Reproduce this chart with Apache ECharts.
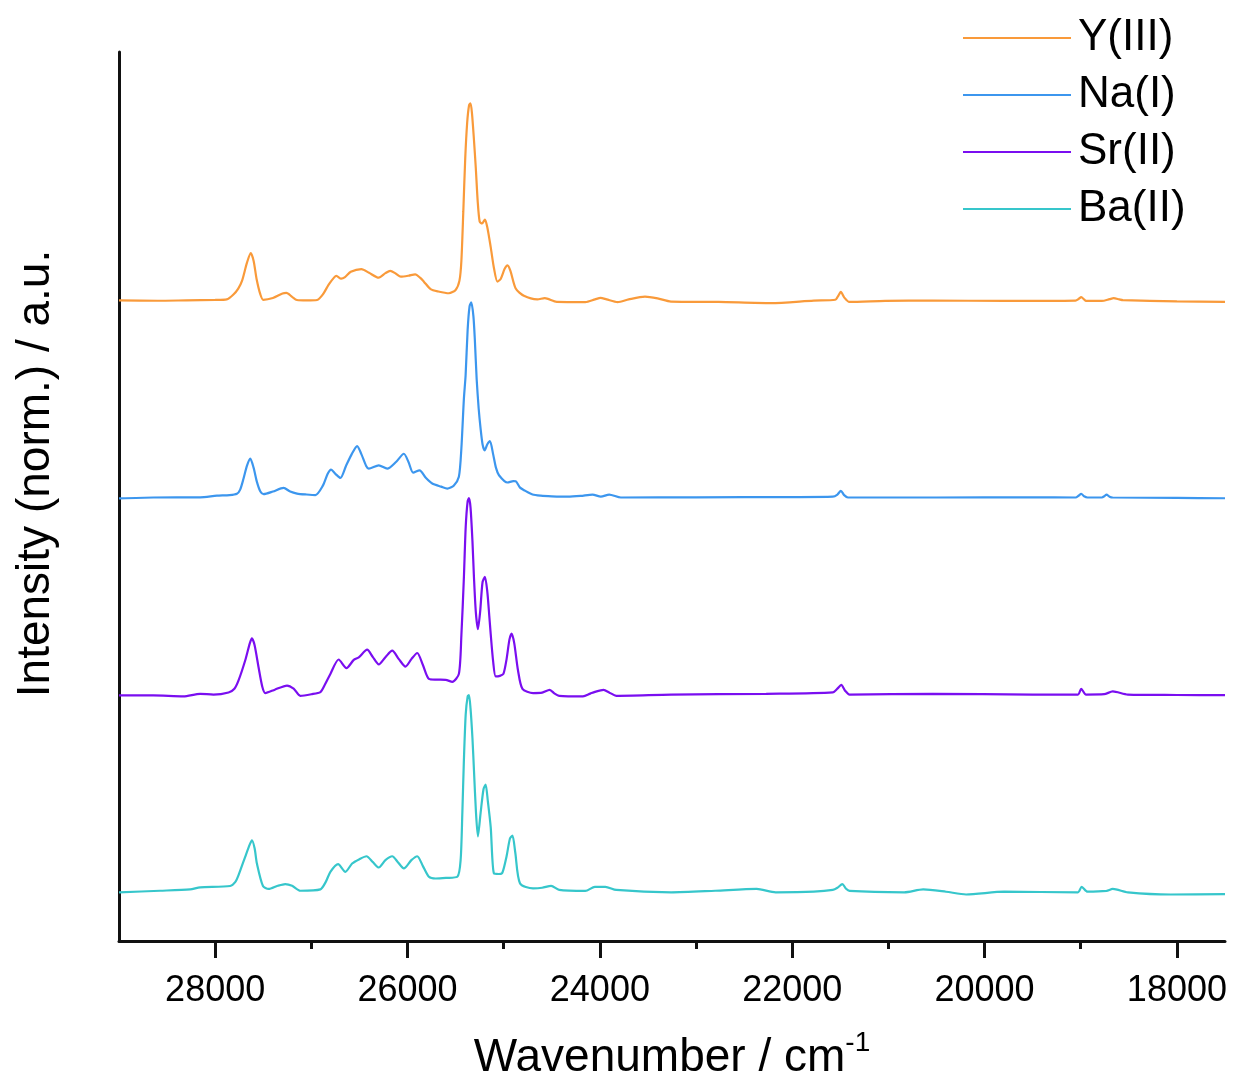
<!DOCTYPE html>
<html>
<head>
<meta charset="utf-8">
<script src="https://cdn.jsdelivr.net/npm/echarts@6/dist/echarts.min.js"></script>
<style>
  html, body { margin: 0; padding: 0; background: #ffffff; }
  #chart { width: 1235px; height: 1086px; }
</style>
</head>
<body>
<div id="chart"></div>
<script>
// ---------------- data (wavenumber / cm-1, normalized intensity) ----------------
const seriesNames = ['Y(III)', 'Na(I)', 'Sr(II)', 'Ba(II)'];
const seriesColors = ['#F99A3A', '#3C96EE', '#7A0EF0', '#36C6CB'];
const seriesOffsets = [3, 2, 1, 0];

const majorTicks = [18000, 20000, 22000, 24000, 26000, 28000];
const minorTicks = [19000, 21000, 23000, 25000, 27000];

const spectrumY = [
  [29000, 0.000], [28600, -0.002], [28300, 0.000], [28000, 0.002], [27880, 0.005],
  [27810, 0.03], [27760, 0.06], [27720, 0.10], [27670, 0.19], [27630, 0.24],
  [27600, 0.20], [27570, 0.11], [27530, 0.03], [27500, 0.003], [27400, 0.012],
  [27300, 0.035], [27260, 0.038], [27200, 0.018], [27150, 0.002], [27050, 0.000],
  [26940, 0.002], [26880, 0.03], [26820, 0.08], [26760, 0.118], [26740, 0.124],
  [26690, 0.11], [26650, 0.118], [26590, 0.145], [26480, 0.159], [26400, 0.14],
  [26300, 0.115], [26230, 0.138], [26180, 0.150], [26120, 0.135], [26070, 0.12],
  [25990, 0.125], [25920, 0.132], [25870, 0.115], [25830, 0.095], [25760, 0.057],
  [25680, 0.045], [25570, 0.036], [25500, 0.053], [25460, 0.10], [25440, 0.20],
  [25420, 0.45], [25400, 0.72], [25380, 0.90], [25360, 0.99], [25345, 1.00],
  [25330, 0.95], [25310, 0.82], [25290, 0.67], [25270, 0.50], [25250, 0.40],
  [25225, 0.39], [25195, 0.41], [25170, 0.37], [25135, 0.27], [25100, 0.16],
  [25065, 0.095], [25030, 0.11], [24990, 0.16], [24960, 0.178], [24930, 0.15],
  [24875, 0.06], [24790, 0.023], [24650, 0.005], [24573, 0.011], [24448, -0.008],
  [24151, -0.009], [24050, 0.005], [23993, 0.013], [23930, 0.005], [23815, -0.009],
  [23700, 0.005], [23531, 0.019], [23400, 0.01], [23260, -0.006], [22766, -0.008],
  [22221, -0.014], [21776, -0.001], [21552, 0.003], [21525, 0.02], [21494, 0.043],
  [21460, 0.015], [21406, -0.008], [21033, -0.003], [20542, -0.001], [19796, -0.003],
  [19054, -0.001], [19020, 0.008], [18995, 0.016], [18965, 0.005], [18945, -0.003],
  [18781, -0.003], [18700, 0.006], [18658, 0.011], [18600, 0.005], [18562, 0.001],
  [18000, -0.005], [17500, -0.008]
];

const spectrumNa = [
  [29000, -0.005], [28643, 0.000], [28156, 0.001], [27982, 0.009], [27850, 0.012],
  [27774, 0.019], [27740, 0.04], [27705, 0.096], [27670, 0.16], [27635, 0.197],
  [27600, 0.15], [27566, 0.079], [27530, 0.03], [27497, 0.017], [27400, 0.03],
  [27289, 0.049], [27220, 0.03], [27149, 0.02], [27050, 0.015], [26958, 0.012],
  [26880, 0.06], [26830, 0.12], [26795, 0.141], [26750, 0.12], [26698, 0.099],
  [26640, 0.16], [26580, 0.22], [26524, 0.261], [26480, 0.22], [26430, 0.16],
  [26403, 0.146], [26299, 0.163], [26211, 0.146], [26120, 0.18], [26038, 0.222],
  [25990, 0.18], [25941, 0.126], [25875, 0.138], [25810, 0.10], [25743, 0.071],
  [25650, 0.055], [25586, 0.045], [25520, 0.06], [25466, 0.105], [25440, 0.25],
  [25414, 0.50], [25396, 0.62], [25375, 0.85], [25355, 0.97], [25337, 0.99],
  [25315, 0.92], [25300, 0.80], [25281, 0.60], [25260, 0.45], [25240, 0.348],
  [25220, 0.27], [25198, 0.239], [25170, 0.27], [25143, 0.286], [25110, 0.22],
  [25080, 0.15], [25049, 0.113], [24961, 0.076], [24900, 0.083], [24875, 0.082],
  [24830, 0.05], [24788, 0.037], [24700, 0.015], [24615, 0.009], [24500, 0.006],
  [24336, 0.004], [24200, 0.008], [24076, 0.015], [23990, 0.004], [23903, 0.015],
  [23781, 0.000], [23000, 0.001], [22000, 0.002], [21578, 0.004], [21530, 0.015],
  [21494, 0.034], [21460, 0.012], [21420, 0.000], [20500, 0.000], [19500, 0.001],
  [19054, 0.000], [19020, 0.01], [18995, 0.019], [18965, 0.006], [18930, 0.000],
  [18781, 0.000], [18750, 0.008], [18732, 0.015], [18700, 0.004], [18667, 0.000],
  [18000, -0.002], [17500, -0.004]
];

const spectrumSr = [
  [29000, -0.004], [28643, -0.004], [28330, -0.009], [28156, 0.004], [28018, 0.000],
  [27861, 0.011], [27800, 0.03], [27757, 0.072], [27688, 0.173], [27640, 0.26],
  [27618, 0.285], [27590, 0.25], [27549, 0.139], [27510, 0.04], [27479, 0.008],
  [27380, 0.025], [27253, 0.046], [27184, 0.03], [27115, -0.006], [27000, 0.002],
  [26906, 0.013], [26860, 0.05], [26802, 0.105], [26716, 0.178], [26635, 0.134],
  [26559, 0.176], [26507, 0.189], [26420, 0.228], [26360, 0.19], [26299, 0.153],
  [26230, 0.19], [26159, 0.223], [26090, 0.18], [26021, 0.142], [25960, 0.18],
  [25899, 0.211], [25840, 0.15], [25778, 0.08], [25700, 0.076], [25604, 0.075],
  [25534, 0.065], [25466, 0.105], [25440, 0.30], [25414, 0.593], [25395, 0.85],
  [25375, 0.98], [25361, 0.997], [25345, 0.95], [25325, 0.78], [25309, 0.593],
  [25290, 0.42], [25268, 0.332], [25245, 0.42], [25220, 0.57], [25195, 0.598],
  [25170, 0.52], [25150, 0.40], [25135, 0.307], [25110, 0.17], [25083, 0.092],
  [25040, 0.095], [25003, 0.105], [24970, 0.18], [24940, 0.28], [24917, 0.31],
  [24890, 0.26], [24851, 0.122], [24805, 0.029], [24695, 0.008], [24600, 0.01],
  [24522, 0.024], [24470, 0.005], [24423, -0.006], [24176, -0.009], [24100, 0.005],
  [24052, 0.014], [23962, 0.024], [23900, 0.01], [23829, -0.006], [23260, 0.000],
  [22271, 0.004], [21578, 0.011], [21530, 0.03], [21490, 0.049], [21450, 0.02],
  [21404, 0.000], [20538, 0.004], [19500, 0.000], [19029, 0.000], [18995, 0.029],
  [18945, 0.000], [18757, 0.002], [18667, 0.016], [18510, 0.000], [18000, -0.002],
  [17500, -0.003]
];

const spectrumBa = [
  [29000, -0.003], [28573, 0.005], [28260, 0.012], [28156, 0.022], [27844, 0.029],
  [27790, 0.05], [27757, 0.084], [27688, 0.177], [27640, 0.24], [27618, 0.261],
  [27590, 0.22], [27566, 0.143], [27503, 0.029], [27445, 0.014], [27350, 0.03],
  [27271, 0.039], [27200, 0.03], [27115, 0.005], [26906, 0.012], [26850, 0.05],
  [26802, 0.101], [26722, 0.14], [26646, 0.101], [26576, 0.143], [26500, 0.165],
  [26427, 0.18], [26360, 0.15], [26299, 0.123], [26230, 0.16], [26159, 0.18],
  [26100, 0.15], [26038, 0.118], [25960, 0.16], [25899, 0.18], [25840, 0.13],
  [25778, 0.076], [25708, 0.067], [25600, 0.07], [25482, 0.076], [25448, 0.16],
  [25430, 0.40], [25414, 0.665], [25395, 0.90], [25375, 0.99], [25361, 0.998],
  [25345, 0.93], [25325, 0.78], [25309, 0.615], [25288, 0.40], [25268, 0.281],
  [25240, 0.40], [25210, 0.52], [25188, 0.544], [25165, 0.46], [25135, 0.328],
  [25101, 0.092], [25050, 0.09], [25014, 0.096], [24970, 0.18], [24935, 0.27],
  [24909, 0.285], [24880, 0.20], [24830, 0.042], [24695, 0.017], [24600, 0.02],
  [24507, 0.03], [24423, 0.009], [24151, 0.004], [24052, 0.025], [23943, 0.025],
  [23829, 0.009], [23260, -0.003], [22800, 0.005], [22370, 0.014], [22172, -0.003],
  [21776, 0.000], [21578, 0.009], [21530, 0.02], [21479, 0.039], [21440, 0.015],
  [21404, 0.004], [20835, -0.003], [20638, 0.012], [20400, 0.000], [20192, -0.014],
  [19796, 0.000], [19029, -0.003], [18990, 0.025], [18930, 0.000], [18732, 0.004],
  [18667, 0.014], [18510, -0.003], [18065, -0.014], [17500, -0.012]
];

const spectra = [spectrumY, spectrumNa, spectrumSr, spectrumBa];

// ---------------- chart ----------------
const FONT = "'Liberation Sans', Arial, Helvetica, sans-serif";
const AXIS_COLOR = '#111111';
const X_MIN = 17500, X_MAX = 29000;
const chart = echarts.init(document.getElementById('chart'), null, { renderer: 'canvas' });

const series = spectra.map((pts, i) => ({
  name: seriesNames[i],
  type: 'line',
  xAxisIndex: 0,
  yAxisIndex: 0,
  data: pts.map(p => [p[0], p[1] + seriesOffsets[i]]),
  showSymbol: false,
  symbol: 'none',
  smooth: 0.25,
  lineStyle: { color: seriesColors[i], width: 2.2 },
  itemStyle: { color: seriesColors[i] },
  z: 10 - i
}));

function tickAxis(values, len) {
  return {
    type: 'value',
    min: X_MIN,
    max: X_MAX,
    inverse: true,
    position: 'bottom',
    axisLine: { show: false, onZero: false },
    axisTick: { show: true, inside: false, length: len, customValues: values, lineStyle: { color: AXIS_COLOR, width: 3 } },
    axisLabel: { show: false },
    splitLine: { show: false }
  };
}

chart.setOption({
  animation: false,
  backgroundColor: '#ffffff',
  textStyle: { fontFamily: FONT },
  grid: { left: 119, right: 10, top: 52, bottom: 142, containLabel: false },
  legend: {
    orient: 'vertical',
    left: 958,
    top: 11,
    icon: 'rect',
    itemWidth: 108,
    itemHeight: 2,
    itemGap: 13,
    data: seriesNames,
    textStyle: { fontFamily: FONT, fontSize: 44, color: '#000', padding: [0, 0, 0, 2], lineHeight: 44 }
  },
  xAxis: [
    {
      type: 'value',
      min: X_MIN,
      max: X_MAX,
      inverse: true,
      position: 'bottom',
      name: '{a|Wavenumber / cm}{s|-1}',
      nameLocation: 'middle',
      nameGap: 88,
      nameTextStyle: {
        rich: {
          a: { fontFamily: FONT, fontSize: 46, lineHeight: 52, color: '#000', verticalAlign: 'bottom' },
          s: { fontFamily: FONT, fontSize: 28, lineHeight: 28, color: '#000', verticalAlign: 'top' }
        }
      },
      axisLine: { show: true, onZero: false, lineStyle: { color: AXIS_COLOR, width: 3 } },
      axisTick: { show: false },
      axisLabel: {
        show: true, customValues: majorTicks, margin: 32, fontSize: 36, fontFamily: FONT, color: '#000',
        formatter: v => String(v)
      },
      splitLine: { show: false }
    },
    tickAxis(majorTicks, 17),
    tickAxis(minorTicks, 8)
  ],
  yAxis: {
    type: 'value',
    min: -0.25,
    max: 4.26,
    name: 'Intensity (norm.) / a.u.',
    nameLocation: 'middle',
    nameGap: 60,
    nameTextStyle: { fontFamily: FONT, fontSize: 46, color: '#000', padding: [0, 0, 0, 46] },
    axisLine: { show: true, onZero: false, lineStyle: { color: AXIS_COLOR, width: 3 } },
    axisTick: { show: false },
    axisLabel: { show: false },
    splitLine: { show: false }
  },
  series: series
});
</script>
</body>
</html>
